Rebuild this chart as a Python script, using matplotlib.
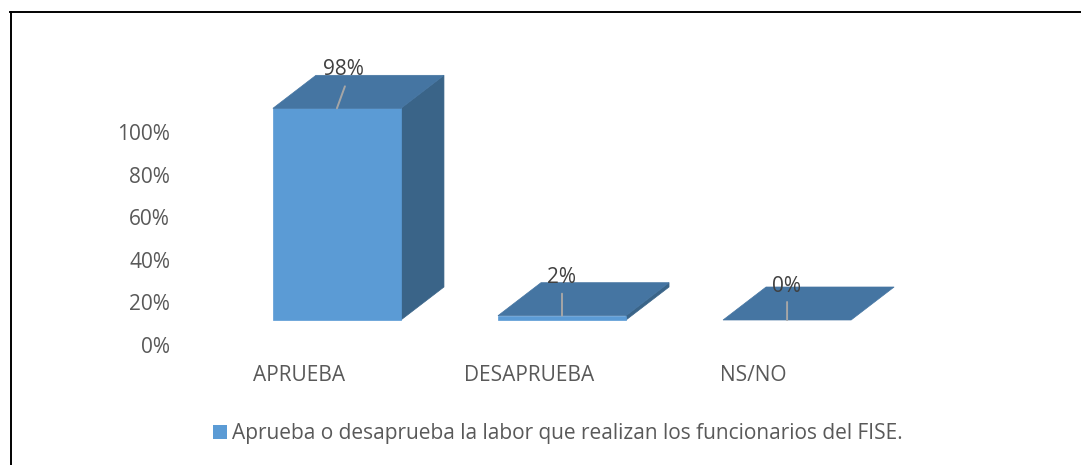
import matplotlib
matplotlib.use('Agg')
import matplotlib.pyplot as plt
from matplotlib.lines import Line2D
from matplotlib.patches import Patch, Polygon

# Data
categories = ['APRUEBA', 'DESAPRUEBA', 'NS/NO']
values = [98, 2, 0]
value_labels = ['98%', '2%', '0%']
y_ticks = [0, 20, 40, 60, 80, 100]
y_tick_labels = ['0%', '20%', '40%', '60%', '80%', '100%']
legend_label = 'Aprueba o desaprueba la labor que realizan los funcionarios del FISE.'

W, H = 1081, 465
FRONT = '#5B9BD5'
TOP = '#4575A2'
SIDE = '#3A6488'
TEXT = '#595959'
FONT_SIZE = 15

plt.rcParams['font.family'] = ['Open Sans', 'DejaVu Sans']


def box(x0, y_top, x1, y_bottom):
    # pixel box (y from the top of the image) to figure fractions
    return [x0 / W, 1 - y_bottom / H, (x1 - x0) / W, (y_bottom - y_top) / H]


fig = plt.figure(figsize=(W / 100, H / 100), dpi=100, facecolor='white')

# Axis with the percent ticks, sits lower than the bars because of the 3D look
ax_ticks = fig.add_axes(box(175, 132, 1000, 345))
ax_ticks.set_ylim(0, 100)
ax_ticks.set_xlim(0, 1)
ax_ticks.set_yticks(y_ticks)
ax_ticks.set_yticklabels(y_tick_labels, fontsize=FONT_SIZE, color=TEXT)
ax_ticks.tick_params(axis='y', length=0, pad=3.5)
ax_ticks.set_xticks([])
ax_ticks.patch.set_alpha(0)
for s in ax_ticks.spines.values():
    s.set_visible(False)

# Bars: one unit on x is one category step, y is percent
ax = fig.add_axes(box(273, 104, 851, 320))
ax.set_xlim(-0.284, 2.284)
ax.set_ylim(0, 100)
ax.axis('off')

bar_w = 128 / 225
depth_x = 43 / 225
depth_y = 33 / 2.16

for i, v in enumerate(values):
    left = i - bar_w / 2
    right = i + bar_w / 2
    if v > 0:
        ax.add_patch(Polygon([(right, 0), (right + depth_x, depth_y),
                              (right + depth_x, v + depth_y), (right, v)],
                             closed=True, fc=SIDE, ec=SIDE, lw=0.5, clip_on=False))
        ax.add_patch(Polygon([(left, 0), (right, 0), (right, v), (left, v)],
                             closed=True, fc=FRONT, ec=FRONT, lw=0.5, clip_on=False))
    ax.add_patch(Polygon([(left, v), (right, v), (right + depth_x, v + depth_y),
                          (left + depth_x, v + depth_y)],
                         closed=True, fc=TOP, ec=TOP, lw=0.5, clip_on=False))

# Value labels with leader lines
label_shift = [(7, 39), (0, 38), (-1, 34)]
leader_end = [(8, 22), (0, 22), (0, 18)]
for i, v in enumerate(values):
    ax.annotate(value_labels[i], (i, v), xytext=label_shift[i],
                textcoords='offset pixels', ha='center', va='center',
                fontsize=FONT_SIZE, color='#404040', annotation_clip=False)
    ax.annotate('', (i, v), xytext=leader_end[i], textcoords='offset pixels',
                arrowprops=dict(arrowstyle='-', color='#A6A6A6', lw=1.4,
                                shrinkA=0, shrinkB=0), annotation_clip=False)

# Category labels
cat_shift = [-38, -33, -34]
for i, c in enumerate(categories):
    ax.annotate(c, (i, 0), xytext=(cat_shift[i], -55), textcoords='offset pixels',
                ha='center', va='center', fontsize=FONT_SIZE, color=TEXT,
                annotation_clip=False)

# Legend
fig.legend(handles=[Patch(fc=FRONT, ec='none', label=legend_label)],
           loc='center', bbox_to_anchor=(558 / W, 1 - 433.5 / H), frameon=False,
           fontsize=FONT_SIZE, labelcolor=TEXT, handlelength=0.67, handleheight=0.67,
           handletextpad=0.25)

# Frame of the pasted picture: only top and left are visible
fig.add_artist(Line2D([10 / W, 1], [1 - 12.5 / H, 1 - 12.5 / H], color='black', lw=1.4))
fig.add_artist(Line2D([10.5 / W, 10.5 / W], [0, 1 - 12.5 / H], color='black', lw=1.4))

fig.savefig('out.png', dpi=100)
